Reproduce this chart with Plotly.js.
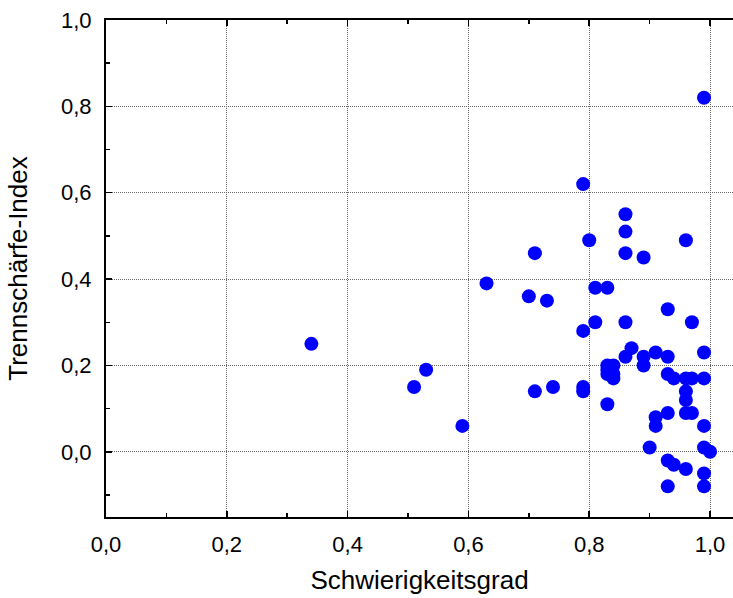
<!DOCTYPE html>
<html>
<head>
<meta charset="utf-8">
<script src="https://cdn.plot.ly/plotly-3.0.1.min.js"></script>
<style>html,body{margin:0;padding:0;background:#fff;}#chart{width:733px;height:598px;}</style>
</head>
<body>
<div id="chart"></div>
<script>
const schwierigkeit = [
  0.34, 0.51, 0.53, 0.59, 0.63, 0.70, 0.71, 0.73, 0.71, 0.74,
  0.79, 0.80, 0.79, 0.79, 0.79, 0.81, 0.83, 0.81, 0.86, 0.86,
  0.86, 0.89, 0.86, 0.96, 0.97, 0.99, 0.93,
  0.87, 0.86, 0.89, 0.91, 0.93, 0.99, 0.89, 0.83, 0.84,
  0.83, 0.84, 0.84, 0.83, 0.93, 0.94, 0.96, 0.97, 0.99,
  0.96, 0.96, 0.96, 0.97, 0.93, 0.91, 0.91, 0.99, 0.83,
  0.90, 0.99, 1.00, 0.93, 0.94, 0.96, 0.99, 0.93, 0.99
];
const trennschaerfe = [
  0.25, 0.15, 0.19, 0.06, 0.39, 0.36, 0.46, 0.35, 0.14, 0.15,
  0.62, 0.49, 0.28, 0.15, 0.14, 0.38, 0.38, 0.30, 0.55, 0.51,
  0.46, 0.45, 0.30, 0.49, 0.30, 0.82, 0.33,
  0.24, 0.22, 0.22, 0.23, 0.22, 0.23, 0.20, 0.20, 0.20,
  0.19, 0.18, 0.17, 0.18, 0.18, 0.17, 0.17, 0.17, 0.17,
  0.14, 0.12, 0.09, 0.09, 0.09, 0.08, 0.06, 0.06, 0.11,
  0.01, 0.01, 0.00, -0.02, -0.03, -0.04, -0.05, -0.08, -0.08
];
const tickVals = [0, 0.2, 0.4, 0.6, 0.8, 1.0];

const font = {family: 'Liberation Sans, Arial, sans-serif', color: '#000'};

Plotly.newPlot('chart', [{
  type: 'scatter',
  mode: 'markers',
  x: schwierigkeit,
  y: trennschaerfe,
  marker: {color: '#0000ff', size: 14, line: {width: 0}},
  hoverinfo: 'x+y'
}], {
  width: 733, height: 598,
  margin: {l: 106, r: 0, t: 20, b: 81},
  separators: ',.',
  showlegend: false,
  paper_bgcolor: '#fff', plot_bgcolor: '#fff',
  font: Object.assign({size: 22}, font),
  xaxis: {
    range: [0, 1.038],
    tickvals: tickVals,
    tickformat: '.1f',
    ticks: 'inside', ticklen: 6, tickwidth: 1.5, tickcolor: '#000',
    minor: {dtick: 0.1, tick0: 0, ticks: 'inside', ticklen: 4, tickcolor: '#000', showgrid: false},
    showline: true, linecolor: '#000', linewidth: 2, mirror: 'ticks',
    showgrid: true, gridcolor: '#666', griddash: '1px,1px', gridwidth: 1,
    zeroline: false,
    ticklabelstandoff: 7,
    tickfont: Object.assign({size: 22}, font),
    title: {text: 'Schwierigkeitsgrad', font: Object.assign({size: 26}, font), standoff: 14}
  },
  yaxis: {
    range: [-0.151, 1.0],
    tickvals: tickVals,
    tickformat: '.1f',
    ticks: 'inside', ticklen: 6, tickwidth: 1.5, tickcolor: '#000',
    minor: {dtick: 0.1, tick0: 0, ticks: 'inside', ticklen: 4, tickcolor: '#000', showgrid: false},
    showline: true, linecolor: '#000', linewidth: 2, mirror: false,
    showgrid: true, gridcolor: '#666', griddash: '1px,1px', gridwidth: 1,
    zeroline: false,
    ticklabelstandoff: 8,
    tickfont: Object.assign({size: 22}, font),
    title: {text: 'Trennschärfe-Index', font: Object.assign({size: 26}, font), standoff: 26}
  }
}, {displayModeBar: false, staticPlot: true});
</script>
</body>
</html>
